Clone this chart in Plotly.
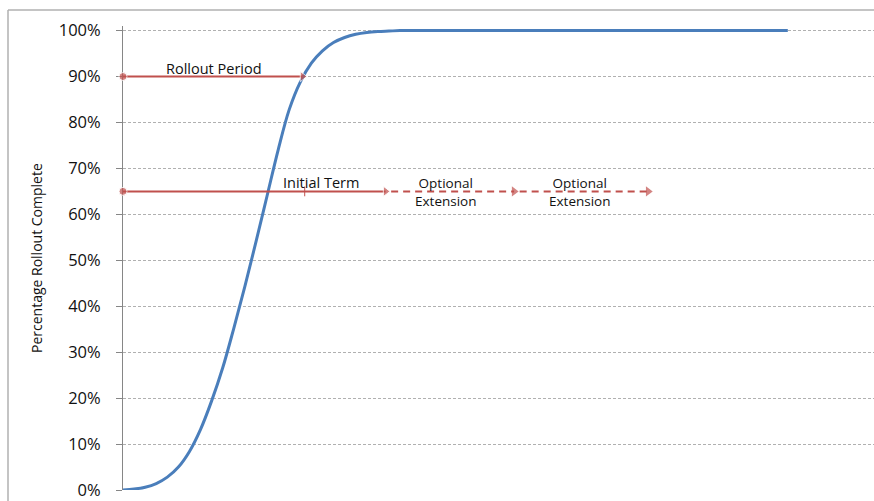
import plotly.graph_objects as go

# Cumulative rollout by month (share of sites complete)
months = list(range(0, 61))
rollout_pct = [0.000, 0.002, 0.006, 0.014, 0.028, 0.050, 0.084, 0.132, 0.194, 0.266,
               0.352, 0.443, 0.540, 0.640, 0.740, 0.828, 0.888, 0.929, 0.956, 0.974,
               0.985, 0.992, 0.996, 0.998, 0.999] + [1.0] * 36

# Timeline markers (months) and the levels they are drawn at
rollout_period_end = 16.2
initial_term_end = 23.7
extension_1_end = 35.3
extension_2_end = 47.4
rollout_level = 0.90
term_level = 0.65
term_tick_x = 16.4

y_ticks = [i / 10 for i in range(11)]
y_tick_labels = [f"{i * 10}%" for i in range(11)]

RED = "#C0504D"
BLUE = "#4A7EBB"
GRID = "#B0B0B0"

fig = go.Figure()

# S-curve
fig.add_trace(go.Scatter(
    x=months, y=rollout_pct, mode="lines", line_shape="spline",
    line=dict(color=BLUE, width=3), hoverinfo="skip", showlegend=False))

# Rollout period arrow
fig.add_trace(go.Scatter(
    x=[0, rollout_period_end], y=[rollout_level, rollout_level], mode="lines+markers",
    line=dict(color=RED, width=2),
    marker=dict(symbol=["circle", "triangle-right"], size=[8, 9], color=RED),
    cliponaxis=False, showlegend=False, hoverinfo="skip"))

# Initial term arrow
fig.add_trace(go.Scatter(
    x=[0, initial_term_end], y=[term_level, term_level], mode="lines+markers",
    line=dict(color=RED, width=2),
    marker=dict(symbol=["circle", "triangle-right"], size=[8, 9], color=RED),
    cliponaxis=False, showlegend=False, hoverinfo="skip"))

# Optional extensions (dashed)
for start, end in [(initial_term_end, extension_1_end), (extension_1_end, extension_2_end)]:
    fig.add_trace(go.Scatter(
        x=[start + 0.5, end], y=[term_level, term_level], mode="lines+markers",
        line=dict(color=RED, width=2, dash="7px,5px"),
        marker=dict(symbol=["line-ns", "triangle-right"], size=[0, 9], color=RED,
                    line=dict(width=0)),
        showlegend=False, hoverinfo="skip"))

# small tick on the initial term line
fig.add_trace(go.Scatter(
    x=[term_tick_x], y=[term_level], mode="markers",
    marker=dict(symbol="line-ns", size=7, line=dict(color=RED, width=1)),
    showlegend=False, hoverinfo="skip"))

LABEL_FONT = dict(family="Open Sans", size=14.5, color="#111111")
fig.add_annotation(x=8.2, y=0.918, text="Rollout Period", showarrow=False,
                   font=LABEL_FONT, xanchor="center", yanchor="middle")
fig.add_annotation(x=17.9, y=0.67, text="Initial Term", showarrow=False,
                   font=LABEL_FONT, xanchor="center", yanchor="middle")
fig.add_annotation(x=29.1, y=0.648, text="Optional<br>Extension", showarrow=False,
                   font=dict(family="Open Sans", size=13.5, color="#111111"),
                   xanchor="center", yanchor="middle")
fig.add_annotation(x=41.2, y=0.648, text="Optional<br>Extension", showarrow=False,
                   font=dict(family="Open Sans", size=13.5, color="#111111"),
                   xanchor="center", yanchor="middle")

# y-axis title
fig.add_annotation(xref="paper", yref="paper", x=(36 - 123) / 751, y=0.5,
                   text="Percentage Rollout Complete", textangle=-90, showarrow=False,
                   font=dict(family="Open Sans", size=14, color="#111111"),
                   xanchor="center", yanchor="middle")

# chart frame (top and left edges)
frame_x = (8 - 123) / 751
frame_top = (493 - 10) / 467
fig.add_shape(type="line", xref="paper", yref="paper", x0=frame_x, x1=1.2,
              y0=frame_top, y1=frame_top,
              line=dict(color="#B0B0B0", width=1.5))
fig.add_shape(type="line", xref="paper", yref="paper", x0=frame_x, x1=frame_x,
              y0=frame_top, y1=-0.1,
              line=dict(color="#B0B0B0", width=1.5))

fig.update_layout(
    width=874, height=501,
    margin=dict(l=123, r=0, t=26, b=8),
    paper_bgcolor="white", plot_bgcolor="white",
    xaxis=dict(range=[0, 751 / 11.08], showgrid=False, zeroline=False,
               showticklabels=False, showline=False, ticks=""),
    yaxis=dict(range=[0, 1.01], tickvals=y_ticks, ticktext=y_tick_labels,
               showgrid=True, gridcolor=GRID, griddash="3px,2px", gridwidth=1,
               zeroline=False, showline=True, linecolor="#868686", linewidth=1,
               ticks="outside", ticklen=6, tickcolor="#868686",
               ticklabelstandoff=12, ticklabeloverflow="allow",
               layer="below traces",
               tickfont=dict(family="Open Sans", size=16.5, color="#111111")),
)

fig.write_html("out.html")
